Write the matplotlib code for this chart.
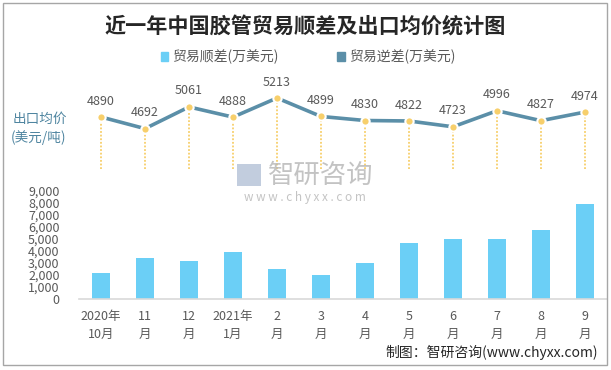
import numpy as np
import matplotlib.pyplot as plt
from matplotlib.patches import Patch, Rectangle

plt.rcParams['font.family'] = ['Noto Sans CJK SC', 'DejaVu Sans']

# datos
meses = ['2020年\n10月', '11\n月', '12\n月', '2021年\n1月', '2\n月', '3\n月',
         '4\n月', '5\n月', '6\n月', '7\n月', '8\n月', '9\n月']
superavit = [2170, 3420, 3170, 3920, 2500, 2000, 3000, 4670, 5000, 5000, 5750, 7920]
precio = [4890, 4692, 5061, 4888, 5213, 4899, 4830, 4822, 4723, 4996, 4827, 4974]

c_barra = '#6BCFF6'
c_linea = '#5B8FA8'
c_punto = '#F7CF6B'
c_gris = '#595959'

W, H = 611, 370
fig = plt.figure(figsize=(W / 100, H / 100), dpi=100)

x = np.arange(len(meses))

# ejes de barras
ax = fig.add_axes([79 / W, 1 - 299 / H, 528 / W, 108 / H])
ax.bar(x, superavit, width=0.41, color=c_barra, zorder=2)
ax.set_xlim(-0.5, len(meses) - 0.5)
ax.set_ylim(0, 9000)
ax.set_yticks(range(0, 9001, 1000))
ax.set_yticklabels([f'{v:,}' for v in range(0, 9001, 1000)])
ax.set_xticks(x)
ax.set_xticklabels(meses, linespacing=1.45)
ax.tick_params(length=0, labelsize=9, colors=c_gris)
ax.tick_params(axis='y', pad=14)
ax.tick_params(axis='x', pad=8)
for s in ['top', 'right', 'left']:
    ax.spines[s].set_visible(False)
ax.spines['bottom'].set_color('#D9D9D9')
ax.spines['bottom'].set_linewidth(1.2)

# ejes del precio
ax2 = fig.add_axes([79 / W, 1 - 169.3 / H, 528 / W, 82.3 / H])
ax2.set_xlim(-0.5, len(meses) - 0.5)
ax2.set_ylim(4000, 5400)
ax2.vlines(x, 4000, precio, colors=c_punto, linestyles=(0, (1, 1)), lw=1.3, zorder=1)
ax2.plot(x, precio, color=c_linea, lw=2.6, zorder=2)
ax2.plot(x, precio, 'o', ms=6, mfc=c_punto, mec='white', mew=1.5, zorder=3)
for xi, v in zip(x, precio):
    ax2.annotate(str(v), (xi, v), xytext=(0, 11.5), textcoords='offset points',
                 ha='center', va='center', fontsize=9, color=c_gris)
ax2.axis('off')

# textos
fig.text(305 / W, 1 - 26 / H, '近一年中国胶管贸易顺差及出口均价统计图',
         ha='center', va='center', fontsize=15.2, fontweight='bold', color='#262626')
fig.text(13 / W, 1 - 119 / H, '出口均价', ha='left', va='center', fontsize=9.8, color='#4F85A0')
fig.text(11 / W, 1 - 138 / H, '(美元/吨)', ha='left', va='center', fontsize=9.8, color='#4F85A0')
fig.text(598 / W, 1 - 352 / H, '制图：智研咨询(www.chyxx.com)', ha='right', va='center',
         fontsize=10, color='#262626')

# marca de agua
fig.text(321 / W, 1 - 175 / H, '智研咨询', ha='center', va='center', fontsize=19,
         color='#B5B5B5', alpha=0.8)
fig.text(305 / W, 1 - 197 / H, 'w w w . c h y x x . c o m', ha='center', va='center',
         fontsize=8.5, color='#B5B5B5', alpha=0.8)
fig.patches.append(Rectangle((237 / W, 1 - 186 / H), 24 / W, 22 / H, transform=fig.transFigure,
                             facecolor='#A9B9D0', edgecolor='none', alpha=0.7))

# leyenda
handles = [Patch(color=c_barra, label='贸易顺差(万美元)'),
           Patch(color=c_linea, label='贸易逆差(万美元)')]
fig.legend(handles=handles, loc='center', bbox_to_anchor=(308 / W, 1 - 57 / H), ncol=2,
           frameon=False, fontsize=10, handlelength=0.55, handleheight=0.55,
           handletextpad=0.3, columnspacing=4.2, labelcolor=c_gris)

# borde
fig.patches.append(Rectangle((3 / W, 1 - 365 / H), 604 / W, 362 / H, transform=fig.transFigure,
                             facecolor='none', edgecolor='#A6A6A6', lw=1))

fig.savefig('out.png', dpi=100)
